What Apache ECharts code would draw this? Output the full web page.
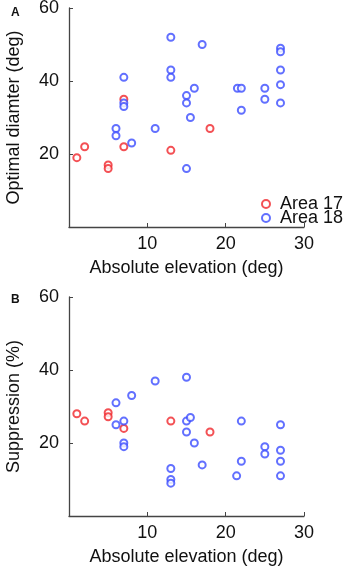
<!DOCTYPE html>
<html>
<head>
    <meta charset="utf-8">
    <title>Area 17 / Area 18</title>
    <script src="https://cdn.jsdelivr.net/npm/echarts@6/dist/echarts.min.js"></script>
</head>
<body style="margin:0;background:#fff;">
<div id="main" style="width: 347px;height:572px;"></div>
<script type="text/javascript">
    // panel A: optimal diameter vs absolute elevation
    var elevA_17 = [7, 18, 1, 2, 5, 5, 7, 13];
    var diam_17 = [35, 27, 19, 22, 17, 16, 22, 21];
    var elevA_18 = [7, 13, 17, 13, 13, 27, 27, 27, 27, 27, 21.5, 22, 25, 25, 22, 16, 15, 15, 15.5, 11, 6, 6, 7, 7, 8, 15];
    var diam_18 = [41, 52, 50, 43, 41, 49, 48, 43, 39, 34, 38, 38, 38, 35, 32, 38, 36, 34, 30, 27, 27, 25, 34, 33, 23, 16];

    // panel B: suppression vs absolute elevation
    var elevB_17 = [1, 2, 5, 5, 7, 13, 18];
    var supp_17 = [28, 26, 28.3, 27.2, 24, 26, 23];
    var elevB_18 = [11, 15, 8, 6, 7, 6, 15, 15.5, 22, 27, 15, 7, 7, 16, 17, 13, 13, 13, 22, 21.4, 25, 25, 27, 27, 27];
    var supp_18 = [37, 38, 33, 31, 26, 25, 26, 27, 26, 25, 23, 20, 19, 20, 14, 13, 10, 9, 15, 11, 19, 17, 18, 15, 11];

    var xTicks = [0, 10, 20, 30];
    var yTicks = [0, 20, 40, 60];

    var red = '#f0262a';
    var blue = '#3b4cff';
    var font = '"Liberation Sans", Arial, sans-serif';

    function pairs(xs, ys) {
        var out = [];
        for (var i = 0; i < xs.length; i++) {
            out.push([xs[i], ys[i]]);
        }
        return out;
    }

    function xAxisCfg(idx) {
        return {
            type: 'value', gridIndex: idx,
            min: xTicks[0], max: xTicks[xTicks.length - 1], interval: 10,
            name: 'Absolute elevation (deg)', nameLocation: 'middle', nameGap: 32,
            nameTextStyle: {fontSize: 18, color: '#111', fontFamily: font},
            axisLine: {lineStyle: {color: '#444', width: 1.3}},
            axisTick: {inside: true, length: 4, lineStyle: {color: '#444'}},
            axisLabel: {fontSize: 18, color: '#111', fontFamily: font, margin: 8, showMinLabel: false},
            splitLine: {show: false}
        };
    }

    function yAxisCfg(idx, title) {
        return {
            type: 'value', gridIndex: idx,
            min: yTicks[0], max: yTicks[yTicks.length - 1], interval: 20,
            name: title, nameLocation: 'middle', nameGap: 46,
            nameTextStyle: {fontSize: 18, color: '#111', fontFamily: font},
            axisLine: {show: true, lineStyle: {color: '#444', width: 1.3}},
            axisTick: {show: true, inside: true, length: 4, lineStyle: {color: '#444'}},
            axisLabel: {fontSize: 18, color: '#111', fontFamily: font, margin: 10, showMinLabel: false},
            splitLine: {show: false}
        };
    }

    function scatter(name, idx, color, data) {
        return {
            name: name, type: 'scatter',
            xAxisIndex: idx, yAxisIndex: idx,
            symbol: 'emptyCircle', symbolSize: 7,
            itemStyle: {color: color, borderColor: color, borderWidth: 1.3},
            emphasis: {disabled: true},
            data: data
        };
    }

    function legendItem(name, top) {
        return {
            data: [name], left: 256, top: top, orient: 'vertical',
            itemWidth: 8, itemHeight: 8, itemGap: 0, icon: 'emptyCircle',
            textStyle: {fontSize: 18, color: '#111', fontFamily: font, lineHeight: 14, padding: [0, 0, 0, 5]},
            selectedMode: false
        };
    }

    var myChart = echarts.init(document.getElementById('main'));

    var option = {
        animation: false,
        backgroundColor: '#fff',
        title: [
            {text: 'A', left: 6, top: 2, textStyle: {fontSize: 12, fontWeight: 'bold', color: '#111', fontFamily: font}},
            {text: 'B', left: 6, top: 289, textStyle: {fontSize: 12, fontWeight: 'bold', color: '#111', fontFamily: font}}
        ],
        legend: [legendItem('Area 17', 190), legendItem('Area 18', 204)],
        grid: [
            {left: 69, top: 8, width: 235, height: 219, containLabel: false, outerBoundsMode: 'none'},
            {left: 69, top: 297, width: 235, height: 219, containLabel: false, outerBoundsMode: 'none'}
        ],
        xAxis: [xAxisCfg(0), xAxisCfg(1)],
        yAxis: [yAxisCfg(0, 'Optimal diamter (deg)'), yAxisCfg(1, 'Suppression (%)')],
        series: [
            scatter('Area 17', 0, red, pairs(elevA_17, diam_17)),
            scatter('Area 18', 0, blue, pairs(elevA_18, diam_18)),
            scatter('Area 17', 1, red, pairs(elevB_17, supp_17)),
            scatter('Area 18', 1, blue, pairs(elevB_18, supp_18))
        ]
    };

    myChart.setOption(option);
</script>
</body>
</html>
